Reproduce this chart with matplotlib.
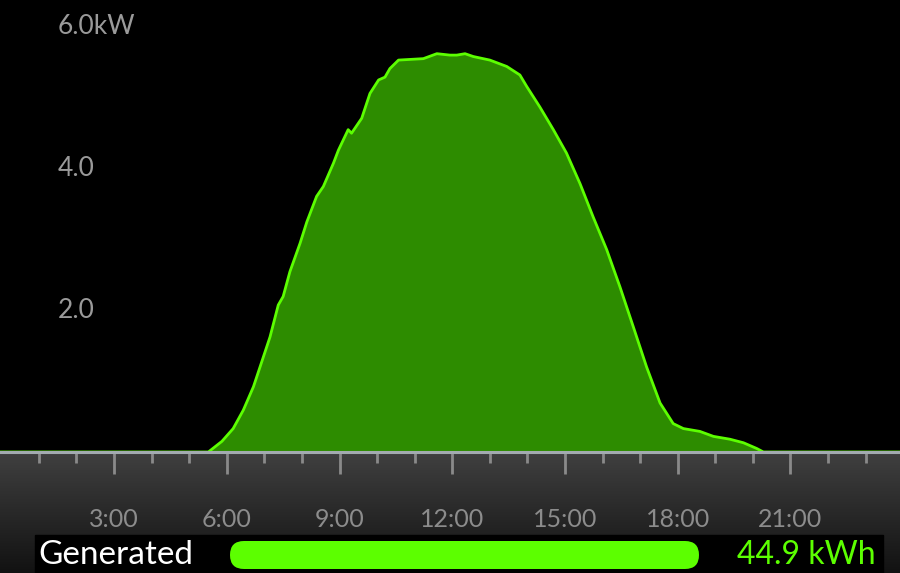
import matplotlib.pyplot as plt
import numpy as np
from matplotlib.patches import FancyBboxPatch, Rectangle

# power readings (hour of day, kW)
hours = [0.0, 5.51, 5.87, 6.17, 6.44, 6.71, 7.15, 7.37, 7.50, 7.68, 7.95,
         8.13, 8.39, 8.57, 8.84, 8.97, 9.23, 9.32, 9.59, 9.81, 10.04, 10.21,
         10.34, 10.57, 11.23, 11.59, 11.94, 12.12, 12.34, 12.56, 13.0, 13.45,
         13.80, 13.98, 14.33, 14.69, 15.04, 15.40, 15.75, 16.11, 16.46, 16.82,
         17.17, 17.53, 17.88, 18.15, 18.59, 18.95, 19.39, 19.75, 20.1, 20.28,
         24.0]
power_kw = [0.0, 0.0, 0.15, 0.33, 0.59, 0.92, 1.62, 2.07, 2.19, 2.54, 2.94,
            3.24, 3.60, 3.74, 4.07, 4.25, 4.54, 4.49, 4.70, 5.05, 5.24, 5.28,
            5.40, 5.52, 5.54, 5.61, 5.59, 5.59, 5.61, 5.57, 5.52, 5.43,
            5.31, 5.15, 4.86, 4.54, 4.21, 3.78, 3.31, 2.85, 2.33, 1.76,
            1.20, 0.69, 0.40, 0.33, 0.29, 0.22, 0.18, 0.13, 0.05, 0.0,
            0.0]

x_ticks = [3, 6, 9, 12, 15, 18, 21]
x_labels = ["3:00", "6:00", "9:00", "12:00", "15:00", "18:00", "21:00"]
y_ticks = [2, 4, 6]
y_labels = ["2.0", "4.0", "6.0kW"]
total_label = "44.9 kWh"

W, H = 900, 573
fig = plt.figure(figsize=(W / 100, H / 100), dpi=100, facecolor="black")
plt.rcParams['font.family'] = ['Lato', 'DejaVu Sans']

# gradient band under the chart
bot = 452
gax = fig.add_axes([0, 0, 1, (H - bot) / H])
grad = np.linspace(0.25, 0.07, 100).reshape(-1, 1)
gax.imshow(np.dstack([grad, grad, grad]), aspect="auto", extent=[0, 1, 0, 1])
gax.set_axis_off()

# main chart
ax = fig.add_axes([0, (H - bot) / H, 1, bot / H])
ax.set_facecolor("black")
ax.fill_between(hours, power_kw, color="#2d8c00", lw=0)
ax.plot(hours, power_kw, color="#5cff00", lw=2, solid_joinstyle="round")
ax.set_xlim(-0.035, 23.915)
ax.set_ylim(0, bot / 71)
for s in ["top", "left", "right"]:
    ax.spines[s].set_visible(False)
ax.spines["bottom"].set_color("#a3abb0")
ax.spines["bottom"].set_linewidth(2.2)
ax.spines["bottom"].set_zorder(5)
ax.set_yticks([])
ax.set_xticks(x_ticks, x_labels)
ax.set_xticks(range(1, 24), minor=True)
ax.tick_params(axis="x", which="major", direction="out", length=16, width=2,
               color="#8a8a8a", labelcolor="#8c8c8c", labelsize=18, pad=24)
ax.tick_params(axis="x", which="minor", direction="out", length=8, width=2,
               color="#8a8a8a")
for v, lab in zip(y_ticks, y_labels):
    ax.text(58 / W, v, lab, transform=ax.get_yaxis_transform(),
            color="#9a9a9a", fontsize=19, ha="left", va="center")

# bottom strip with total
ov = fig.add_axes([0, 0, 1, 1])
ov.set_xlim(0, W)
ov.set_ylim(H, 0)
ov.set_axis_off()
ov.patch.set_alpha(0)
ov.add_patch(Rectangle((35, 535), 848, 40, color="black"))
ov.add_patch(FancyBboxPatch((230, 541), 469, 28,
                            boxstyle="round,pad=0,rounding_size=14",
                            color="#5cff00", lw=0))
ov.text(38, 555, "Generated", color="white", fontsize=24, ha="left", va="center")
ov.text(876, 555, total_label, color="#5cff00", fontsize=23, ha="right", va="center")

fig.savefig("out.png", dpi=100, facecolor="black")
